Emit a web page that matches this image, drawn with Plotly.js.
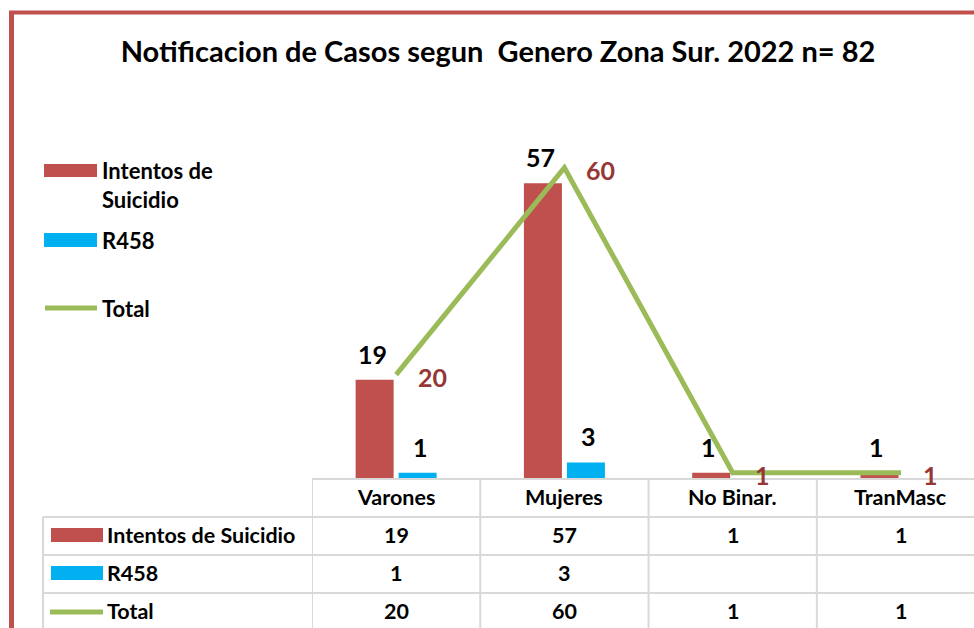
<!DOCTYPE html>
<html>
<head>
<meta charset="utf-8">
<script src="https://cdn.plot.ly/plotly-3.0.1.min.js"></script>
<style>html,body{margin:0;padding:0;background:#fff;}#chart{width:974px;height:628px;}</style>
</head>
<body>
<div id="chart"></div>
<script>
const categories = ['Varones', 'Mujeres', 'No Binar.', 'TranMasc'];
const intentos = [19, 57, 1, 1];
const r458 = [1, 3, null, null];
const total = [20, 60, 1, 1];
const seriesNames = ['Intentos de Suicidio', 'R458', 'Total'];
const legendLabels = ['Intentos de<br>Suicidio', 'R458', 'Total'];
const titleText = 'Notificacion de Casos segun  Genero Zona Sur. 2022 n= 82';

const W = 974, H = 628;
const px = x => x / W;
const py = y => 1 - y / H;
const RED = '#c0504d', BLUE = '#00b0f0', GREEN = '#9bbb59', DARKRED = '#953735', GRID = '#d9d9d9';
const FONT = 'Lato, "Open Sans", sans-serif';

const traces = [
  {type: 'bar', x: categories, y: intentos, name: seriesNames[0], marker: {color: RED}, hoverinfo: 'skip'},
  {type: 'bar', x: categories, y: r458, name: seriesNames[1], marker: {color: BLUE}, hoverinfo: 'skip'},
  {type: 'scatter', mode: 'lines', x: categories, y: total, name: seriesNames[2], line: {color: GREEN, width: 5}, hoverinfo: 'skip'}
];

const shapes = [];
const annotations = [];

// chart border (red)
shapes.push({type: 'line', xref: 'paper', yref: 'paper', x0: px(11.5), x1: px(11.5), y0: py(12.5), y1: py(640), line: {color: RED, width: 5}});
shapes.push({type: 'line', xref: 'paper', yref: 'paper', x0: px(9), x1: px(980), y0: py(12.5), y1: py(12.5), line: {color: RED, width: 4}});

// side legend
const legY = [171, 240, 308];
shapes.push({type: 'rect', xref: 'paper', yref: 'paper', x0: px(44), x1: px(97), y0: py(177), y1: py(164), fillcolor: RED, line: {width: 0}});
shapes.push({type: 'rect', xref: 'paper', yref: 'paper', x0: px(44), x1: px(97), y0: py(247), y1: py(233), fillcolor: BLUE, line: {width: 0}});
shapes.push({type: 'line', xref: 'paper', yref: 'paper', x0: px(45), x1: px(97), y0: py(308), y1: py(308), line: {color: GREEN, width: 5}});
legendLabels.forEach((t, i) => {
  annotations.push({xref: 'paper', yref: 'paper', x: px(100), y: py(i === 0 ? 185 : legY[i]), xanchor: 'left', yanchor: 'middle', align: 'left',
    text: '<b>' + t + '</b>', showarrow: false, font: {family: FONT, size: 22, color: '#000'}});
});

// value labels over bars
const barLabFont = {family: FONT, size: 25, color: '#000'};
categories.forEach((c, i) => {
  if (intentos[i] != null) annotations.push({xref: 'x', yref: 'y', x: c, y: intentos[i], xshift: -24, yshift: 26, yanchor: 'middle', text: '<b>' + intentos[i] + '</b>', showarrow: false, font: barLabFont});
  if (r458[i] != null) annotations.push({xref: 'x', yref: 'y', x: c, y: r458[i], xshift: 24, yshift: 26, yanchor: 'middle', text: '<b>' + r458[i] + '</b>', showarrow: false, font: barLabFont});
  annotations.push({xref: 'x', yref: 'y', x: c, y: total[i], xshift: 20, yshift: -2, xanchor: 'left', yanchor: 'middle', text: '<b>' + total[i] + '</b>', showarrow: false, font: {family: FONT, size: 25, color: DARKRED}});
});

// data table
const rowY = [535, 573, 611];
const headerY = 497;
const tFont = {family: FONT, size: 21.5, color: '#000'};
// horizontal lines
shapes.push({type: 'line', xref: 'paper', yref: 'paper', x0: px(312), x1: px(980), y0: py(479), y1: py(479), line: {color: GRID, width: 2}});
[517, 555, 593].forEach(y => shapes.push({type: 'line', xref: 'paper', yref: 'paper', x0: px(43), x1: px(980), y0: py(y), y1: py(y), line: {color: GRID, width: 2}}));
// vertical lines
shapes.push({type: 'line', xref: 'paper', yref: 'paper', x0: px(43), x1: px(43), y0: py(517), y1: py(640), line: {color: GRID, width: 2}});
categories.forEach((c, i) => {
  shapes.push({type: 'line', xref: 'x', yref: 'paper', x0: i - 0.5, x1: i - 0.5, y0: py(479), y1: py(640), line: {color: GRID, width: 2}});
  annotations.push({xref: 'x', yref: 'paper', x: c, y: py(headerY), yanchor: 'middle', text: '<b>' + c + '</b>', showarrow: false, font: tFont});
});
[intentos, r458, total].forEach((arr, r) => {
  arr.forEach((v, i) => {
    if (v != null) annotations.push({xref: 'x', yref: 'paper', x: categories[i], y: py(rowY[r]), yanchor: 'middle', text: '<b>' + v + '</b>', showarrow: false, font: tFont});
  });
  annotations.push({xref: 'paper', yref: 'paper', x: px(105), y: py(rowY[r]), xanchor: 'left', yanchor: 'middle', text: '<b>' + seriesNames[r] + '</b>', showarrow: false, font: tFont});
});
// table legend keys
shapes.push({type: 'rect', xref: 'paper', yref: 'paper', x0: px(51), x1: px(103), y0: py(542), y1: py(528), fillcolor: RED, line: {width: 0}});
shapes.push({type: 'rect', xref: 'paper', yref: 'paper', x0: px(51), x1: px(103), y0: py(580), y1: py(566), fillcolor: BLUE, line: {width: 0}});
shapes.push({type: 'line', xref: 'paper', yref: 'paper', x0: px(50), x1: px(103), y0: py(612), y1: py(612), line: {color: GREEN, width: 5}});

const layout = {
  width: W, height: H,
  margin: {l: 0, r: 0, t: 0, b: 0},
  paper_bgcolor: '#fff', plot_bgcolor: 'rgba(0,0,0,0)',
  showlegend: false,
  barmode: 'group', bargap: 0.489, bargroupgap: 0.116,
  title: {text: '<b>' + titleText + '</b>', x: 498 / W, xanchor: 'center', y: py(52), yanchor: 'middle', xref: 'paper', yref: 'container', font: {family: FONT, size: 29, color: '#000'}},
  xaxis: {type: 'category', domain: [312 / W, 1], range: [-0.5, 3.434], showticklabels: false, showgrid: false, zeroline: false, showline: false, fixedrange: true},
  yaxis: {domain: [py(478), py(116)], range: [0, 70], showticklabels: false, showgrid: false, zeroline: false, showline: false, fixedrange: true},
  shapes: shapes,
  annotations: annotations,
  font: {family: FONT}
};

Plotly.newPlot('chart', traces, layout, {displayModeBar: false, staticPlot: true});
</script>
</body>
</html>
